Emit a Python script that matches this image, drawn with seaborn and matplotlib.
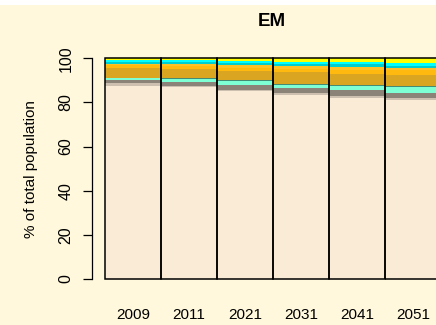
import matplotlib
matplotlib.use('Agg')
import matplotlib.pyplot as plt
from matplotlib.patches import Rectangle
import numpy as np
import pandas as pd
import seaborn as sns

# --- data (percent of total population, EM) ---
years = ['2009', '2011', '2021', '2031', '2041', '2051']

white_british = [87.6, 86.8, 85.2, 83.4, 82.2, 81.1]
white_irish = [1.0, 0.6, 0.6, 0.9, 0.7, 0.9]
white_other = [1.4, 2.0, 2.0, 2.3, 2.6, 2.3]
mixed = [1.1, 1.2, 1.8, 1.5, 2.0, 2.6]
mixed_other = [0.2, 0.3, 0.4, 0.4, 0.6, 0.6]
indian = [4.5, 4.2, 4.3, 5.3, 4.7, 4.8]
other_asian = [1.0, 1.5, 1.5, 1.5, 2.1, 2.3]
pakistani = [0.6, 0.9, 1.0, 1.1, 1.2, 1.2]
black_caribbean = [0.9, 0.8, 1.1, 1.2, 1.2, 0.7]
black_african = [0.9, 0.9, 0.7, 0.7, 0.9, 1.5]
chinese_other = [0.8, 0.8, 1.4, 1.7, 1.8, 2.0]

layers = [white_british, white_irish, white_other, mixed, mixed_other, indian,
          other_asian, pakistani, black_caribbean, black_african, chinese_other]
layer_colors = ['#FAEBD7', '#CDC0B0', '#8B8378', '#7FFFD4', '#458B74', '#DAA520',
                '#FFB90F', '#FFC125', '#00CDCD', '#00FFFF', '#FFFF00']

bg = '#FFF8DC'

sns.set_theme(style='ticks')
plt.rcParams['font.family'] = ['Liberation Sans', 'DejaVu Sans']

fig = plt.figure(figsize=(4.36, 3.25), dpi=100, facecolor=bg)
ax = fig.add_axes([92 / 436, 46 / 325, 344 / 436, 220.7 / 325])
ax.set_facecolor(bg)

# stacked bars: draw cumulative totals from the top layer down
cum = np.cumsum(np.array(layers), axis=0)
for i in reversed(range(len(layers))):
    sns.barplot(x=years, y=cum[i], order=years, color=layer_colors[i], saturation=1,
                width=1, linewidth=0, ax=ax)

# bar outlines
sns.barplot(x=years, y=cum[-1], order=years, color='black', fill=False,
            width=1, linewidth=1.1, ax=ax)
for p in ax.patches:
    p.set_clip_on(False)

ax.set_xlim(-0.732, -0.732 + 344 / 56)
ax.set_ylim(0, 100)
ax.set_yticks([0, 20, 40, 60, 80, 100])

for s in ['top', 'right', 'bottom']:
    ax.spines[s].set_visible(False)
ax.spines['left'].set_color('black')
ax.spines['left'].set_linewidth(0.9)

ax.tick_params(axis='x', length=0, pad=21, labelsize=11, colors='black')
ax.tick_params(axis='y', length=6.5, width=0.9, pad=7, labelsize=11.5,
               colors='black', labelrotation=90)
for lab in ax.get_yticklabels():
    lab.set_va('center')

ax.set_xlabel('')
ax.set_ylabel('% of total population', fontsize=11, color='black')
ax.yaxis.set_label_coords(-0.157, 0.5)

fig.text(272 / 436, 1 - 22 / 325, 'EM', ha='center', va='center',
         fontsize=13.5, fontweight='bold', color='black')

# thin white strip along the very top, as in the reference
fig.patches.append(Rectangle((0, 1 - 5 / 325), 1, 5 / 325, transform=fig.transFigure,
                             facecolor='white', edgecolor='none', zorder=-1))

fig.savefig('out.png', dpi=100, facecolor=bg)
